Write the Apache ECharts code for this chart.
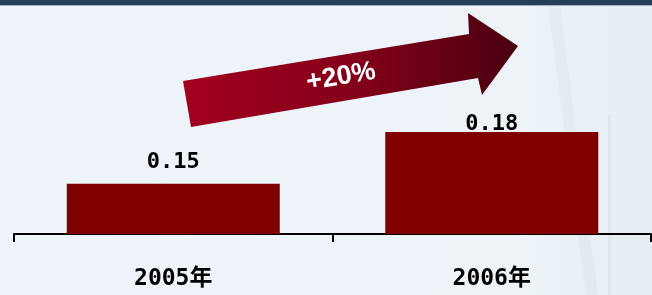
<!DOCTYPE html>
<html>
<head>
<meta charset="utf-8">
<script src="https://cdn.jsdelivr.net/npm/echarts@6/dist/echarts.min.js"></script>
<style>
    html, body { margin: 0; padding: 0; }
    #main { width: 652px; height: 295px; }
</style>
</head>
<body>
<div id="main"></div>
<script>
var years = ['2005年', '2006年'];
var values = [0.15, 0.18];
var growthText = '+20%';

var chart = echarts.init(document.getElementById('main'));

// label gap above each bar differs in the original slide
var barData = values.map(function (v, i) {
    return {value: v, label: {distance: i === 0 ? 11 : -3}};
});

chart.setOption({
    backgroundColor: {
        type: 'linear', x: 0, y: 0, x2: 1, y2: 0,
        colorStops: [
            {offset: 0, color: '#eef4f9'},
            {offset: 0.8, color: '#edf3f7'},
            {offset: 1, color: '#e6eef3'}
        ]
    },
    animation: false,
    grid: {left: 14, right: 1, top: 61, bottom: 61},
    xAxis: {
        type: 'category',
        data: years,
        boundaryGap: true,
        axisLine: {lineStyle: {color: '#000', width: 2}},
        axisTick: {show: true, inside: false, length: 8, lineStyle: {color: '#000', width: 2}},
        axisLabel: {
            color: '#000',
            fontSize: 23,
            fontWeight: 'bold',
            fontFamily: '"DejaVu Sans Mono", "Noto Sans CJK SC", monospace',
            margin: 34
        }
    },
    yAxis: {
        type: 'value',
        min: 0.121,
        max: 0.221,
        show: false,
        splitLine: {show: false}
    },
    series: [{
        type: 'bar',
        barWidth: 213,
        data: barData,
        itemStyle: {color: '#800000'},
        label: {
            show: true,
            position: 'top',
            color: '#000',
            fontSize: 22,
            fontWeight: 'bold',
            fontFamily: '"DejaVu Sans Mono", monospace'
        }
    }],
    graphic: [
        // top band
        {type: 'rect', shape: {x: 0, y: 0, width: 652, height: 5}, style: {fill: '#253f5a'}, z: 1},
        {type: 'rect', shape: {x: 0, y: 5, width: 652, height: 1}, style: {fill: '#9fb2c4'}, z: 1},
        // faint streaks on the right
        {type: 'polygon', shape: {points: [[548, 6], [560, 6], [598, 295], [586, 295]]},
            style: {fill: 'rgba(140,150,160,0.06)'}, z: 0, silent: true},
        {type: 'rect', shape: {x: 608, y: 115, width: 3, height: 180},
            style: {fill: 'rgba(150,160,170,0.10)'}, z: 0, silent: true},
        // growth arrow
        {
            type: 'polygon',
            shape: {points: [[183, 81], [469, 34], [468, 13], [518, 46], [482, 95], [478, 78], [191, 127]]},
            style: {
                fill: {
                    type: 'linear', x: 0, y: 0, x2: 1, y2: 0,
                    colorStops: [
                        {offset: 0, color: '#a2001f'},
                        {offset: 0.5, color: '#85001a'},
                        {offset: 1, color: '#4a0010'}
                    ]
                }
            },
            z: 10
        },
        {
            type: 'text',
            x: 341,
            y: 77,
            rotation: 0.17,
            style: {
                text: growthText,
                fill: '#fff',
                font: 'bold 27px "Liberation Sans", sans-serif',
                align: 'center',
                verticalAlign: 'middle'
            },
            z: 11
        }
    ]
});
</script>
</body>
</html>
